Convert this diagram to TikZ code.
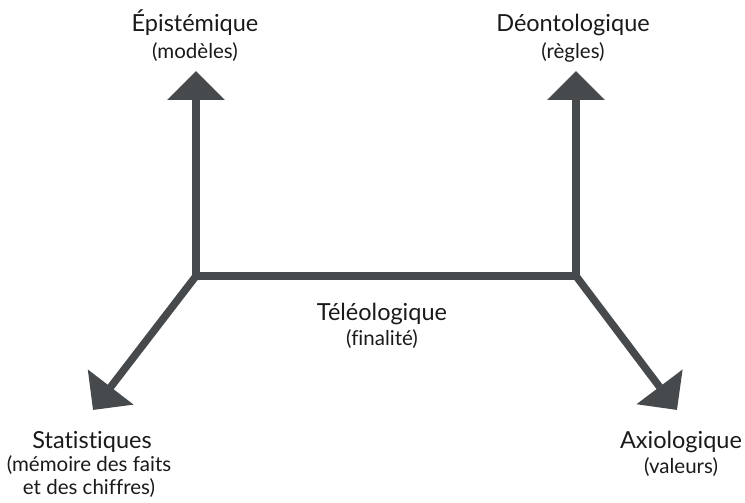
\documentclass[tikz,border=0pt]{standalone}
\usepackage{fontspec}
\setmainfont{Lato}[Ligatures={NoCommon}]
\usetikzlibrary{arrows.meta}
\definecolor{axeC}{HTML}{474A4C}
\definecolor{textC}{HTML}{1A1A1A}

\begin{document}
\begin{tikzpicture}[x=1pt, y=-1pt, line join=miter,
  axe/.style={draw=axeC, line width=7.5pt, -{Triangle[length=29pt, width=56pt]}},
  titre/.style={text=textC, font=\fontsize{23.5}{28}\selectfont, anchor=base, inner sep=0pt},
  soustitre/.style={text=textC, font=\fontsize{20.5}{24}\selectfont, anchor=base, inner sep=0pt}]
\useasboundingbox (0,0) rectangle (745,503);
% jonctions et pointes
\coordinate (jg) at (196,276);
\coordinate (jd) at (576,276);
\coordinate (pEpi) at (196,71);
\coordinate (pDeo) at (576,71);
\coordinate (pSta) at (93,410);
\coordinate (pAxi) at (677,410);
% axes
\draw[axe, -] (jg) -- (jd);
\draw[axe] (jg) -- (pEpi);
\draw[axe] (jd) -- (pDeo);
\draw[axe] (jg) -- (pSta);
\draw[axe] (jd) -- (pAxi);
% libelles
\node[titre] (epi) at (195,32) {Épistémique};
\node[soustitre] (epiS) at (195,59) {(modèles)};
\node[titre] (deo) at (573,32) {Déontologique};
\node[soustitre] (deoS) at (573,59) {(règles)};
\node[titre] (tel) at (382,320) {Téléologique};
\node[soustitre] (telS) at (382,345) {(finalité)};
\node[titre] (sta) at (92,448) {Statistiques};
\node[soustitre] (staS) at (89,471) {(mémoire des faits};
\node[soustitre] (staS2) at (89,494) {et des chiffres)};
\node[titre] (axi) at (681,448) {Axiologique};
\node[soustitre] (axiS) at (681,473) {(valeurs)};
\end{tikzpicture}
\end{document}
